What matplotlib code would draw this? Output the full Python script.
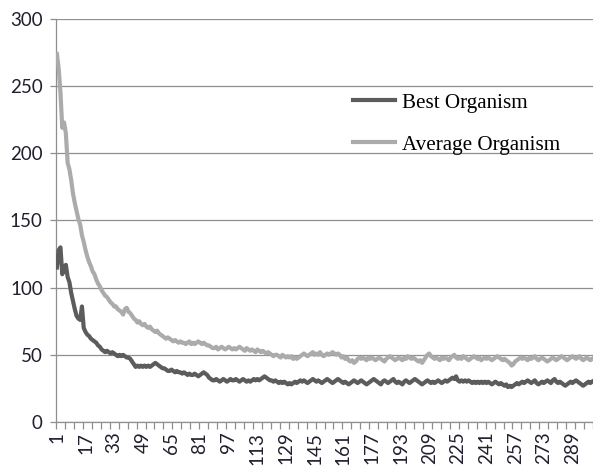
import matplotlib
matplotlib.use("Agg")
import matplotlib.pyplot as plt
from matplotlib.ticker import FixedLocator

# generations 1..300
generations = list(range(1, 301))

best_organism = [
    115, 128, 130, 110, 114, 117, 108, 104, 96, 90,
    84, 79, 77, 76, 86, 70, 67, 65, 64, 62,
    61, 60, 59, 57, 56, 54, 53, 52, 53, 52,
    51, 52, 51, 50, 49, 50, 49, 50, 49, 48,
    48, 47, 45, 43, 41, 42, 41, 42, 41, 42,
    41, 42, 41, 42, 43, 44, 43, 42, 41, 40,
    40, 39, 38, 38, 39, 38, 37, 38, 37, 37,
    36, 37, 36, 35, 36, 35, 35, 36, 35, 34,
    35, 36, 37, 36, 35, 33, 32, 31, 31, 32,
    31, 30, 31, 32, 31, 30, 31, 32, 31, 31,
    32, 31, 30, 31, 32, 31, 30, 31, 30, 31,
    32, 31, 32, 31, 32, 33, 34, 33, 32, 31,
    31, 30, 31, 30, 29, 30, 29, 30, 29, 28,
    29, 28, 29, 30, 29, 30, 31, 30, 31, 30,
    29, 30, 31, 32, 31, 30, 31, 30, 29, 30,
    31, 32, 31, 30, 29, 30, 31, 32, 31, 30,
    29, 30, 29, 28, 29, 30, 31, 30, 29, 30,
    31, 30, 29, 28, 29, 30, 31, 32, 31, 30,
    29, 28, 30, 31, 30, 29, 30, 31, 32, 30,
    29, 30, 29, 28, 30, 31, 30, 29, 30, 31,
    32, 31, 30, 29, 28, 29, 30, 31, 30, 29,
    30, 29, 30, 31, 30, 29, 30, 31, 30, 31,
    32, 33, 32, 34, 31, 30, 31, 30, 31, 30,
    31, 30, 29, 30, 29, 30, 29, 30, 29, 30,
    29, 30, 29, 28, 29, 30, 29, 28, 29, 28,
    27, 28, 26, 27, 26, 27, 28, 29, 28, 29,
    30, 29, 30, 31, 30, 29, 30, 31, 29, 28,
    29, 30, 29, 30, 31, 30, 29, 31, 32, 30,
    29, 30, 29, 28, 27, 28, 29, 30, 29, 30,
    31, 30, 29, 28, 27, 28, 29, 30, 29, 30,
]

average_organism = [
    274, 263, 245, 219, 223, 215, 193, 188, 180, 170,
    163, 157, 151, 147, 139, 134, 128, 123, 119, 116,
    112, 110, 106, 103, 101, 98, 96, 94, 93, 91,
    89, 88, 86, 86, 84, 83, 82, 80, 84, 85,
    82, 81, 79, 77, 76, 74, 75, 73, 72, 73,
    71, 70, 71, 69, 68, 67, 68, 66, 65, 64,
    63, 62, 63, 62, 61, 60, 61, 60, 59, 60,
    59, 59, 58, 59, 60, 58, 59, 58, 59, 60,
    59, 58, 59, 58, 57, 57, 56, 55, 55, 56,
    54, 55, 56, 55, 54, 55, 56, 55, 54, 55,
    54, 55, 56, 55, 54, 53, 55, 54, 53, 54,
    53, 52, 54, 53, 52, 53, 52, 51, 52, 51,
    50, 49, 50, 50, 49, 48, 50, 49, 48, 49,
    48, 49, 47, 48, 47, 48, 49, 50, 51, 50,
    49, 50, 51, 52, 50, 51, 50, 52, 50, 49,
    50, 51, 50, 51, 52, 51, 50, 51, 50, 48,
    49, 47, 48, 46, 45, 46, 44, 45, 47, 48,
    47, 48, 47, 46, 48, 47, 48, 47, 46, 47,
    48, 47, 46, 45, 47, 48, 49, 48, 47, 46,
    47, 48, 47, 46, 48, 47, 49, 48, 47, 48,
    47, 46, 45, 46, 44, 46, 48, 50, 51, 49,
    48, 47, 48, 47, 46, 48, 47, 48, 47, 46,
    48, 49, 50, 48, 47, 48, 47, 49, 48, 47,
    46, 47, 48, 49, 48, 47, 48, 46, 47, 48,
    47, 48, 47, 46, 47, 48, 49, 48, 47, 46,
    47, 46, 45, 44, 42, 43, 45, 46, 47, 48,
    47, 48, 47, 46, 48, 47, 48, 49, 47, 46,
    47, 48, 47, 46, 45, 46, 47, 48, 47, 46,
    47, 48, 49, 48, 47, 46, 47, 48, 49, 48,
    47, 48, 49, 47, 46, 47, 48, 47, 46, 47,
]

x_labels = [1, 17, 33, 49, 65, 81, 97, 113, 129, 145, 161, 177, 193,
            209, 225, 241, 257, 273, 289]
y_ticks = [0, 50, 100, 150, 200, 250, 300]

BEST_COLOR = "#5c5c5c"
AVG_COLOR = "#ababab"
GRID_COLOR = "#8f8f8f"
TEXT_COLOR = "#1f1f2f"

fig = plt.figure(figsize=(5.93, 4.76), dpi=100)
ax = fig.add_axes([56 / 593, 1 - 422 / 476, 537 / 593, 403 / 476])

ax.plot(generations, best_organism, color=BEST_COLOR, lw=3.0,
        solid_joinstyle="round", label="Best Organism", zorder=3)
ax.plot(generations, average_organism, color=AVG_COLOR, lw=3.0,
        solid_joinstyle="round", label="Average Organism", zorder=3)

ax.set_xlim(0.5, 300.5)
ax.set_ylim(0, 300)

# gridlines (excel style)
ax.set_yticks(y_ticks)
ax.yaxis.grid(True, color=GRID_COLOR, lw=0.9)
ax.set_axisbelow(True)

for s in ["top", "right"]:
    ax.spines[s].set_visible(False)
for s in ["left", "bottom"]:
    ax.spines[s].set_color(GRID_COLOR)
    ax.spines[s].set_linewidth(0.9)

ax.tick_params(axis="y", length=4.5, width=0.9, color=GRID_COLOR, pad=5,
               labelsize=13.5, labelcolor=TEXT_COLOR)
for lab in ax.get_yticklabels():
    lab.set_family("Lato")

# x labels at every 16th generation, tick marks every 5 between categories
ax.xaxis.set_major_locator(FixedLocator(x_labels))
ax.set_xticklabels([str(v) for v in x_labels], rotation=90, family="Lato")
ax.xaxis.set_minor_locator(FixedLocator([k + 0.5 for k in range(0, 301, 5)]))
ax.tick_params(axis="x", which="major", length=0, pad=7,
               labelsize=13.5, labelcolor=TEXT_COLOR)
ax.tick_params(axis="x", which="minor", length=5, width=0.9, color=GRID_COLOR)

leg = ax.legend(loc="upper left", bbox_to_anchor=(353 / 593, 1 - 93 / 476),
                bbox_transform=fig.transFigure, frameon=False, borderpad=0,
                borderaxespad=0, handlelength=2.0, handletextpad=0.3,
                labelspacing=1.05, prop={"family": "Liberation Serif", "size": 15.2})

plt.savefig("out.png", dpi=100)
